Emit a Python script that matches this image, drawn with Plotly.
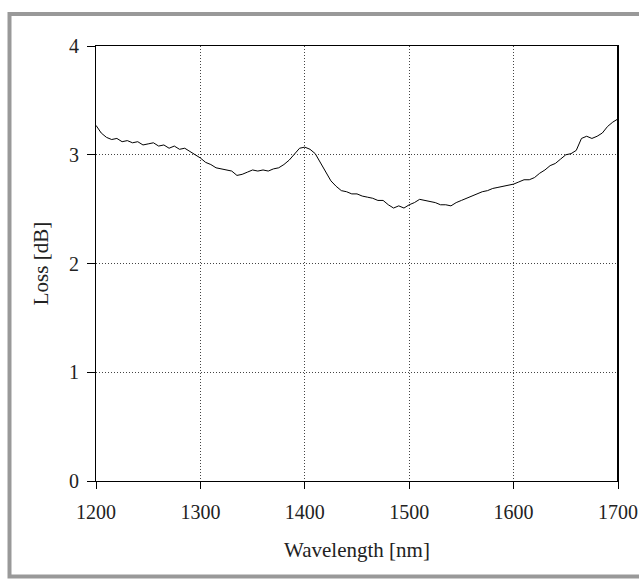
import plotly.graph_objects as go

wavelength = list(range(1200, 1701, 5))
loss = [
    3.27, 3.20, 3.16, 3.14, 3.15, 3.12, 3.13, 3.11, 3.12, 3.09,
    3.10, 3.11, 3.08, 3.09, 3.06, 3.08, 3.05, 3.06, 3.03, 3.00,
    2.97, 2.93, 2.91, 2.88, 2.87, 2.86, 2.85, 2.81, 2.82, 2.84,
    2.86, 2.85, 2.86, 2.85, 2.87, 2.88, 2.91, 2.95, 3.01, 3.06,
    3.07, 3.05, 3.01, 2.93, 2.84, 2.76, 2.71, 2.67, 2.66, 2.64,
    2.64, 2.62, 2.61, 2.60, 2.58, 2.58, 2.54, 2.51, 2.53, 2.51,
    2.54, 2.56, 2.59, 2.58, 2.57, 2.56, 2.54, 2.54, 2.53, 2.56,
    2.58, 2.60, 2.62, 2.64, 2.66, 2.67, 2.69, 2.70, 2.71, 2.72,
    2.73, 2.75, 2.77, 2.77, 2.79, 2.83, 2.86, 2.90, 2.92, 2.96,
    3.00, 3.01, 3.04, 3.15, 3.17, 3.15, 3.17, 3.20, 3.26, 3.30,
    3.33,
]
x_ticks = [1200, 1300, 1400, 1500, 1600, 1700]
y_ticks = [0, 1, 2, 3, 4]

W, H = 639, 579
ML, MR, MT, MB = 96, 21, 46, 98
pw, ph = W - ML - MR, H - MT - MB

def px_x(p):
    return (p - ML) / pw

def px_y(p):
    return (H - MB - p) / ph

FAM = "Liberation Serif"
tick_font = dict(family=FAM, size=20, color="#222")
title_font = dict(family=FAM, size=21, color="#222")

fig = go.Figure()
fig.add_trace(go.Scatter(x=wavelength, y=loss, mode="lines",
                         line=dict(color="black", width=1), showlegend=False))

fig.update_layout(
    width=W, height=H,
    margin=dict(l=ML, r=MR, t=MT, b=MB),
    paper_bgcolor="white", plot_bgcolor="white",
    font=dict(family=FAM, size=20, color="#222"),
    xaxis=dict(range=[1200, 1700], tickvals=x_ticks, showline=True, mirror=True,
               linecolor="black", linewidth=1, ticks="outside", ticklen=7,
               tickcolor="black", showgrid=True, gridcolor="#444", griddash="1px,2px",
               gridwidth=1, zeroline=False, automargin=False, tickfont=tick_font,
               ticklabelstandoff=6,
               title=dict(text="Wavelength [nm]", font=title_font, standoff=20)),
    yaxis=dict(range=[0, 4], tickvals=y_ticks, showline=True, mirror=True,
               linecolor="black", linewidth=1, ticks="outside", ticklen=8,
               tickcolor="black", showgrid=True, gridcolor="#444", griddash="1px,2px",
               gridwidth=1, zeroline=False, automargin=False, tickfont=tick_font,
               ticklabelstandoff=4,
               title=dict(text="Loss [dB]", font=title_font, standoff=14)),
    shapes=[
        dict(type="rect", xref="paper", yref="paper",
             x0=px_x(9.5), x1=px_x(650), y0=px_y(576.5), y1=px_y(14),
             line=dict(color="#999999", width=4), layer="below"),
        dict(type="line", xref="paper", yref="paper", x0=1, x1=1, y0=0, y1=1,
             line=dict(color="black", width=2)),
    ],
)

fig.write_html("out.html")
